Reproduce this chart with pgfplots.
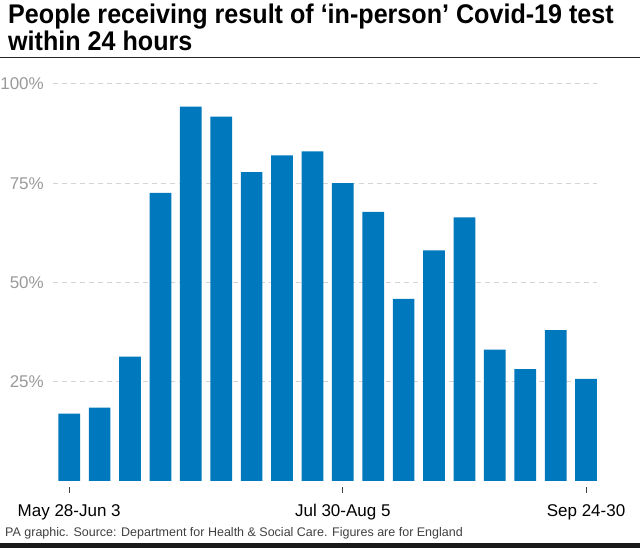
\documentclass[border=0pt]{standalone}
\usepackage{fontspec}
\setmainfont{Liberation Sans}
\newfontfamily\titlefont{Liberation Sans}[FakeStretch=0.93]
\usepackage{pgfplots}
\pgfplotsset{compat=1.18}
\definecolor{barblue}{HTML}{0078BE}
\definecolor{gridgray}{HTML}{D4D4D4}
\definecolor{ticktext}{HTML}{9A9A9A}
\definecolor{foot}{HTML}{404040}
\begin{document}
\begin{tikzpicture}[x=1pt,y=1pt]
\useasboundingbox (0,0) rectangle (640,548);
\node[anchor=base west, inner sep=0pt, font=\titlefont\bfseries\fontsize{27}{27}\selectfont] at (8,524) {People receiving result of ‘in-person’ Covid-19 test};
\node[anchor=base west, inner sep=0pt, font=\titlefont\bfseries\fontsize{27}{27}\selectfont] at (8,497.3) {within 24 hours};
\draw[line width=1.5pt, color=black!85] (0,490.3) -- (640,490.3);
\begin{axis}[
  at={(53pt,67pt)}, anchor=south west,
  scale only axis, width=544pt, height=397pt,
  xmin=-0.533, xmax=17.36, ymin=0, ymax=100,
  axis line style={draw=none},
  /pgf/number format/assume math mode=true,
  ytick={25,50,75,100},
  yticklabels={25\%,50\%,75\%,100\%},
  ymajorgrids,
  grid style={draw=gridgray, dash pattern=on 5pt off 4pt, line width=1pt},
  ytick style={draw=none},
  yticklabel style={anchor=east, inner sep=0pt, xshift=-3pt, text=ticktext, font=\fontsize{17}{17}\selectfont},
  xtick={0,9,17},
  xtick pos=bottom,
  xticklabels={May 28-Jun 3, Jul 30-Aug 5, Sep 24-30},
  tick align=outside,
  major tick length=6pt,
  xtick style={draw=black!75, line width=1pt, yshift=-6pt},
  xticklabel style={anchor=base, inner sep=0pt, text=black, font=\fontsize{17}{17}\selectfont, yshift=-29.7pt},
  clip=false,
]
\addplot[ybar, bar width=21.7pt, fill=barblue, draw=none] coordinates {
(0,17.0) (1,18.5) (2,31.3) (3,72.6) (4,94.3) (5,91.8) (6,77.8) (7,82.0) (8,83.0)
(9,75.0) (10,67.8) (11,45.9) (12,58.1) (13,66.4) (14,33.1) (15,28.2) (16,38.0) (17,25.7)
};
\end{axis}
\node[anchor=base west, inner sep=0pt, text=foot, font=\fontsize{12.5}{13}\selectfont] at (5,11.3) {PA graphic. Source: Department for Health \& Social Care. Figures are for England};
\fill[black!90] (0,0) rectangle (640,4.5);
\end{tikzpicture}
\end{document}
